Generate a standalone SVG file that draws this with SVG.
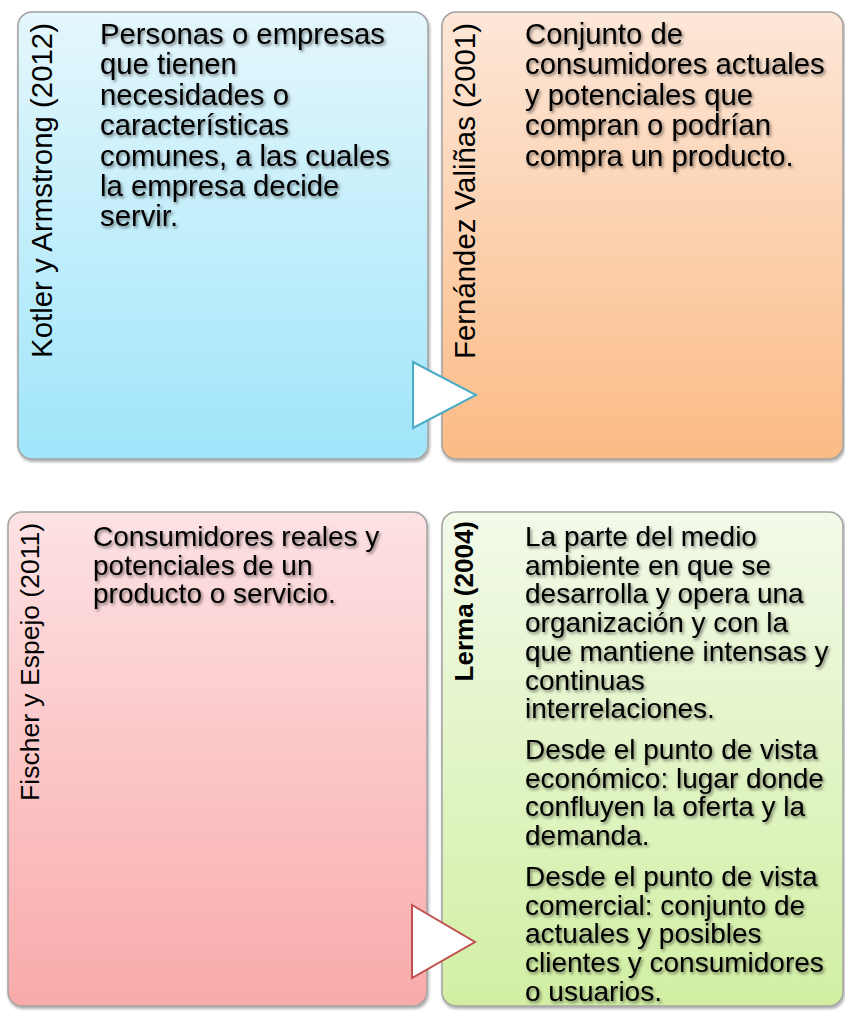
<svg xmlns="http://www.w3.org/2000/svg" width="845" height="1011" viewBox="0 0 845 1011">
<defs>
<linearGradient id="gBlue" x1="0" y1="0" x2="0" y2="1"><stop offset="0" stop-color="#E4F7FC"/><stop offset="1" stop-color="#A0E5FA"/></linearGradient>
<linearGradient id="gOrange" x1="0" y1="0" x2="0" y2="1"><stop offset="0" stop-color="#FDE7D8"/><stop offset="1" stop-color="#FBBB85"/></linearGradient>
<linearGradient id="gPink" x1="0" y1="0" x2="0" y2="1"><stop offset="0" stop-color="#FDE2E4"/><stop offset="1" stop-color="#F9AAAA"/></linearGradient>
<linearGradient id="gGreen" x1="0" y1="0" x2="0" y2="1"><stop offset="0" stop-color="#F2FAE9"/><stop offset="1" stop-color="#D2EFA3"/></linearGradient>
<filter id="boxShadow" x="-5%" y="-5%" width="110%" height="110%"><feDropShadow dx="1" dy="2" stdDeviation="1.5" flood-color="#000" flood-opacity="0.35"/></filter>
<filter id="txtShadow" x="-10%" y="-20%" width="120%" height="160%"><feDropShadow dx="1.5" dy="2" stdDeviation="1.6" flood-color="#000" flood-opacity="0.5"/></filter>
</defs>
<style>
.box{stroke:#A3A3A3;stroke-width:1.5;filter:url(#boxShadow)}
.body{font-family:"Liberation Sans",Arial,sans-serif;fill:#000;filter:url(#txtShadow)}
.top{font-size:29.3px}
.bot{font-size:28px}
.lab{font-family:"Liberation Sans",Arial,sans-serif;fill:#000;font-size:29.4px;text-anchor:end}
.tri{fill:#fff;stroke-width:2}
</style>
<g id="node-kotler">
<rect class="box" x="18" y="12" width="410" height="447" rx="14" fill="url(#gBlue)"/>
<text class="lab" transform="translate(52,23) rotate(-90)">Kotler y Armstrong (2012)</text>
<text class="body top"><tspan x="100" y="44">Personas o empresas</tspan><tspan x="100" y="74.4">que tienen</tspan><tspan x="100" y="104.8">necesidades o</tspan><tspan x="100" y="135.2">características</tspan><tspan x="100" y="165.6">comunes, a las cuales</tspan><tspan x="100" y="196">la empresa decide</tspan><tspan x="100" y="226.4">servir.</tspan></text>
</g>
<g id="node-fernandez">
<rect class="box" x="442" y="12" width="401" height="447" rx="14" fill="url(#gOrange)"/>
<text class="lab" transform="translate(475,23) rotate(-90)">Fernández Valiñas (2001)</text>
<text class="body top"><tspan x="525" y="44">Conjunto de</tspan><tspan x="525" y="74.4">consumidores actuales</tspan><tspan x="525" y="104.8">y potenciales que</tspan><tspan x="525" y="135.2">compran o podrían</tspan><tspan x="525" y="165.6">compra un producto.</tspan></text>
</g>
<g id="node-fischer">
<rect class="box" x="8" y="512" width="419" height="494" rx="14" fill="url(#gPink)"/>
<text class="lab" style="font-size:26.5px" transform="translate(39,523) rotate(-90)">Fischer y Espejo (2011)</text>
<text class="body bot"><tspan x="93" y="546">Consumidores reales y</tspan><tspan x="93" y="574.7">potenciales de un</tspan><tspan x="93" y="603.4">producto o servicio.</tspan></text>
</g>
<g id="node-lerma">
<rect class="box" x="442" y="512" width="401" height="494" rx="14" fill="url(#gGreen)"/>
<text class="lab" style="font-weight:bold;font-size:26px" transform="translate(473,521) rotate(-90)">Lerma (2004)</text>
<text class="body bot"><tspan x="525" y="546">La parte del medio</tspan><tspan x="525" y="574.7">ambiente en que se</tspan><tspan x="525" y="603.4">desarrolla y opera una</tspan><tspan x="525" y="632.1">organización y con la</tspan><tspan x="525" y="660.8">que mantiene intensas y</tspan><tspan x="525" y="689.5">continuas</tspan><tspan x="525" y="718.2">interrelaciones.</tspan><tspan x="525" y="759">Desde el punto de vista</tspan><tspan x="525" y="787.7">económico: lugar donde</tspan><tspan x="525" y="816.4">confluyen la oferta y la</tspan><tspan x="525" y="845.1">demanda.</tspan><tspan x="525" y="886">Desde el punto de vista</tspan><tspan x="525" y="914.7">comercial: conjunto de</tspan><tspan x="525" y="943.4">actuales y posibles</tspan><tspan x="525" y="972.1">clientes y consumidores</tspan><tspan x="525" y="1000.8">o usuarios.</tspan></text>
</g>
<g id="connectors">
<polygon class="tri" points="413,362 476,395 413,428" stroke="#4BACC6"/>
<polygon class="tri" points="412,905 475,942 412,978" stroke="#C0504D"/>
</g>
</svg>
